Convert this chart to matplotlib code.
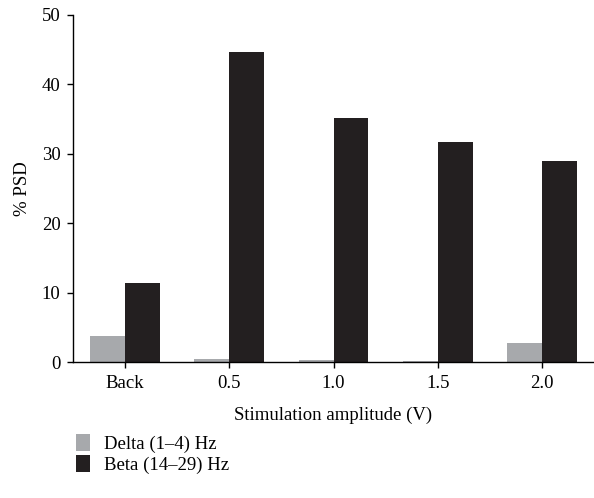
import numpy as np
import matplotlib
matplotlib.use("Agg")
import matplotlib.pyplot as plt

plt.rcParams['font.family'] = ['Liberation Serif', 'DejaVu Serif']

# % PSD per band for each stimulation condition
conditions = ['Back', '0.5', '1.0', '1.5', '2.0']
delta_psd = [3.8, 0.4, 0.3, 0.15, 2.8]
beta_psd = [11.4, 44.6, 35.2, 31.7, 29.0]

delta_color = '#a7a9ac'
beta_color = '#231f20'

fig = plt.figure(figsize=(5.94, 4.98), dpi=100)
ax = fig.add_axes([0.123, 0.273, 0.877, 0.697])

x = np.arange(len(conditions))
width = 0.335
ax.bar(x - width / 2, delta_psd, width, color=delta_color, label='Delta (1–4) Hz')
ax.bar(x + width / 2, beta_psd, width, color=beta_color, label='Beta (14–29) Hz')

ax.set_xlim(-0.5, 4.5)
ax.set_ylim(0, 50)
ax.set_yticks([0, 10, 20, 30, 40, 50])
ax.set_xticks(x)
ax.set_xticklabels(conditions)

ax.spines['top'].set_visible(False)
ax.spines['right'].set_visible(False)
for side in ('left', 'bottom'):
    ax.spines[side].set_linewidth(1.0)
ax.tick_params(direction='out', length=4, width=1.0, labelsize=13.5, pad=5)

ax.set_ylabel('% PSD', fontsize=13.5, labelpad=8)
ax.set_xlabel('Stimulation amplitude (V)', fontsize=13.5, labelpad=11)

fig.legend(loc='upper left', bbox_to_anchor=(0.115, 0.144), frameon=False,
           fontsize=13.5, handlelength=0.78, handleheight=1.0,
           handletextpad=0.7, labelspacing=0.15, borderaxespad=0)

fig.savefig('out.png', dpi=100)
